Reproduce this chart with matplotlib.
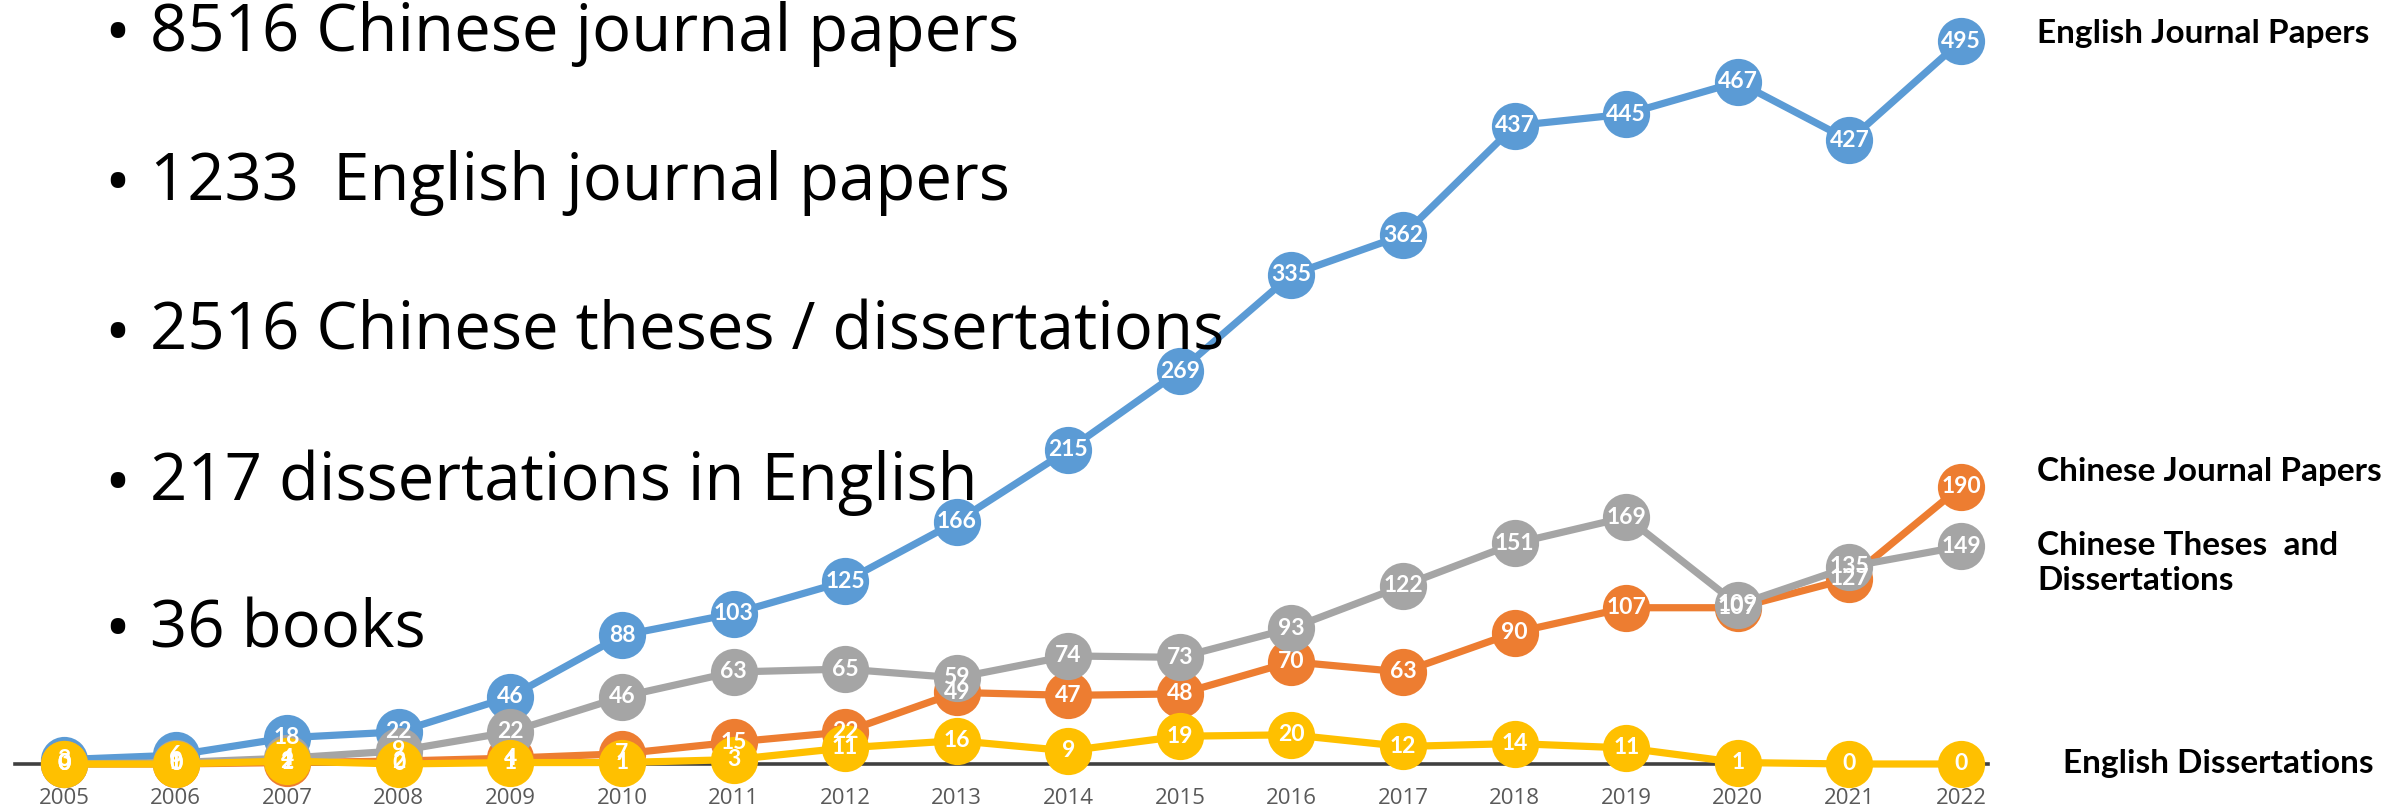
import matplotlib
matplotlib.use("Agg")
import matplotlib.pyplot as plt

years = [str(y) for y in range(2005, 2023)]

english_journal = [3, 6, 18, 22, 46, 88, 103, 125, 166, 215, 269, 335, 362, 437, 445, 467, 427, 495]
chinese_journal = [0, 0, 1, 2, 4, 7, 15, 22, 49, 47, 48, 70, 63, 90, 107, 107, 127, 190]
chinese_theses = [0, 1, 4, 9, 22, 46, 63, 65, 59, 74, 73, 93, 122, 151, 169, 109, 135, 149]
english_diss = [0, 0, 2, 0, 1, 1, 3, 11, 16, 9, 19, 20, 12, 14, 11, 1, 0, 0]

series_names = ["English Journal Papers", "Chinese Journal Papers",
                "Chinese Theses  and\nDissertations", "English Dissertations"]
colors = ["#5B9BD5", "#ED7D31", "#A5A5A5", "#FFC000"]

bullets = ["8516 Chinese journal papers",
           "1233  English journal papers",
           "2516 Chinese theses / dissertations",
           "217 dissertations in English",
           "36 books"]

W, H = 2397, 809
fig = plt.figure(figsize=(W / 100, H / 100), dpi=100)
ax = fig.add_axes([15 / W, (H - 764) / H, (1988 - 15) / W, 764 / H])

x = list(range(len(years)))
ax.set_xlim(-0.439, 17.242)
ax.set_ylim(0, 523.1)

# draw order as in the original: blue, orange, gray, yellow
order = [english_journal, chinese_journal, chinese_theses, english_diss]
for i, vals in enumerate(order):
    ax.plot(x, vals, color=colors[i], lw=5.2, marker="o", markersize=34,
            markeredgewidth=0, zorder=3 + i, clip_on=False, solid_capstyle="round")

for i, vals in enumerate(order):
    for xi, v in zip(x, vals):
        ax.text(xi, v, str(v), ha="center", va="center", color="white",
                fontsize=16.5, fontweight="bold", family="Lato",
                zorder=10, clip_on=False)

for s in ["top", "right", "left"]:
    ax.spines[s].set_visible(False)
ax.spines["bottom"].set_color("#404040")
ax.spines["bottom"].set_linewidth(2.6)
ax.spines["bottom"].set_zorder(2)
ax.set_yticks([])
ax.set_xticks(x)
ax.set_xticklabels(years, fontsize=16, color="#595959", family="Open Sans")
ax.tick_params(axis="x", length=0, pad=17)

# series labels on the right
lab = dict(fontsize=24, fontweight="bold", family="Lato", va="center", ha="left")
fig.text(2037 / W, 1 - 34 / H, series_names[0], **lab)
fig.text(2037 / W, 1 - 472 / H, series_names[1], **lab)
fig.text(2037 / W, 1 - 563 / H, series_names[2], linespacing=1.25, **lab)
fig.text(2063 / W, 1 - 764 / H, series_names[3], **lab)

# bullet list on the left
ys = [34, 183, 333, 483, 630]
for t, yy in zip(bullets, ys):
    fig.text(104 / W, 1 - (yy - 5) / H, "\u2022", fontsize=50,
             va="center_baseline", ha="left", family="Open Sans")
    fig.text(150 / W, 1 - yy / H, t, fontsize=47, va="center", ha="left",
             family="Open Sans")

fig.savefig("out.png", dpi=100)
